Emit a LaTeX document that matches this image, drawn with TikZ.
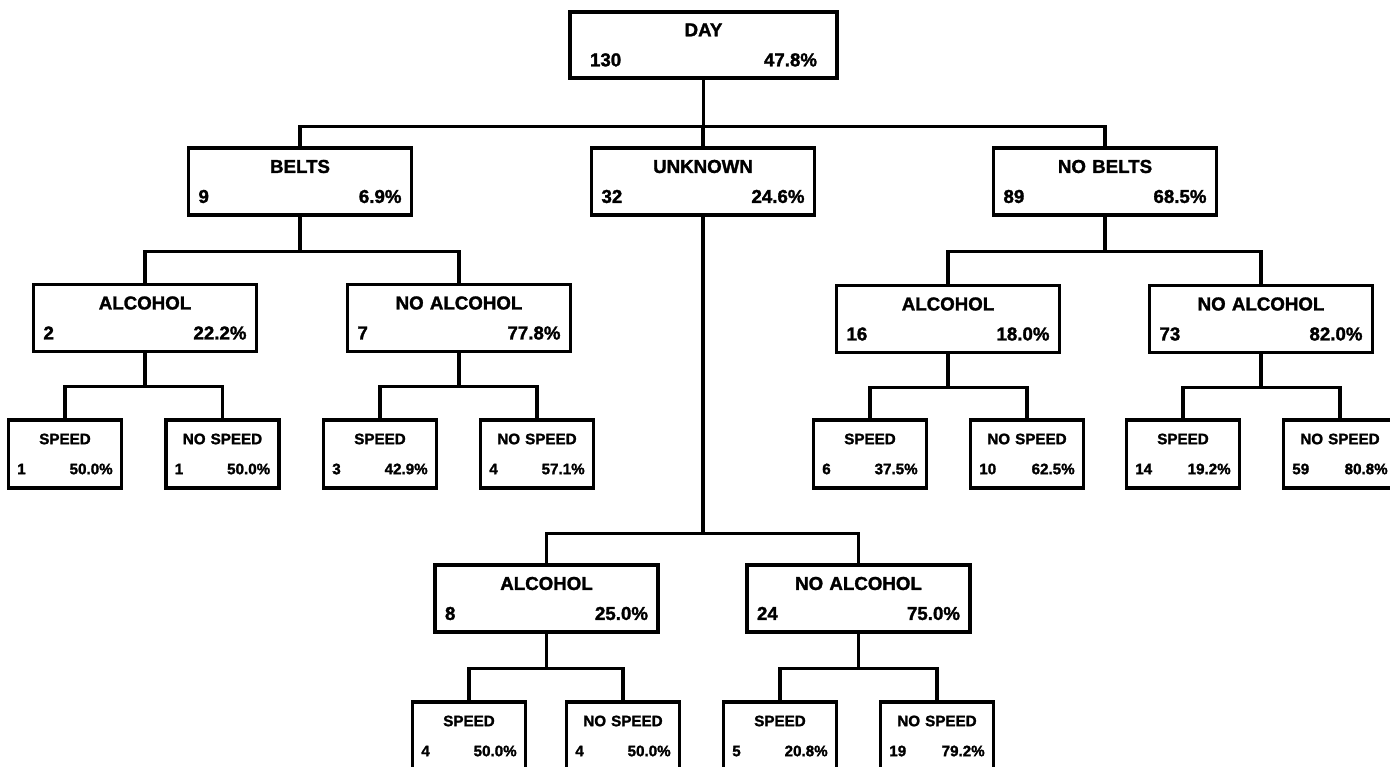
\documentclass[tikz,border=0pt]{standalone}
\usepackage{fontspec}
\setmainfont{Liberation Sans}[BoldFeatures={FakeBold=1.6}]

\begin{document}
\begin{tikzpicture}[
  x=0.25mm, y=-0.25mm,
  line width=2.2pt,
  box/.style={draw, line width=2.2pt, align=center, inner ysep=0pt},
  splitbox/.style={box, text width=50.75mm, inner xsep=2.5mm, minimum height=16.75mm,
    font=\fontsize{13.3pt}{7.5mm}\selectfont\bfseries},
  rootbox/.style={splitbox, text width=56.75mm, inner xsep=5mm, minimum height=16.5mm},
  leafbox/.style={box, text width=23.85mm, inner xsep=2.2mm, minimum height=17mm,
    font=\fontsize{10.8pt}{7.5mm}\selectfont\bfseries}
]
\useasboundingbox (0,0) rectangle (1390,767);

\node[rootbox] (day) at (703.5,45) {DAY\\130\hfill 47.8\%};

\node[splitbox] (belts) at (300,181.5) {BELTS\\9\hfill 6.9\%};
\node[splitbox] (unknown) at (703,181.5) {UNKNOWN\\32\hfill 24.6\%};
\node[splitbox] (nobelts) at (1105,181.5) {NO BELTS\\89\hfill 68.5\%};

\node[splitbox] (b-alc) at (145,318) {ALCOHOL\\2\hfill 22.2\%};
\node[splitbox] (b-noalc) at (459,318) {NO ALCOHOL\\7\hfill 77.8\%};
\node[splitbox] (n-alc) at (948,319) {ALCOHOL\\16\hfill 18.0\%};
\node[splitbox] (n-noalc) at (1261,319) {NO ALCOHOL\\73\hfill 82.0\%};
\node[splitbox] (u-alc) at (546.5,598.5) {ALCOHOL\\8\hfill 25.0\%};
\node[splitbox] (u-noalc) at (858.5,598.5) {NO ALCOHOL\\24\hfill 75.0\%};

\node[leafbox] (b-alc-sp) at (65,454) {SPEED\\1\hfill 50.0\%};
\node[leafbox] (b-alc-nosp) at (222.5,454) {NO SPEED\\1\hfill 50.0\%};
\node[leafbox] (b-noalc-sp) at (380,454) {SPEED\\3\hfill 42.9\%};
\node[leafbox] (b-noalc-nosp) at (537,454) {NO SPEED\\4\hfill 57.1\%};
\node[leafbox] (n-alc-sp) at (870,454) {SPEED\\6\hfill 37.5\%};
\node[leafbox] (n-alc-nosp) at (1027,454) {NO SPEED\\10\hfill 62.5\%};
\node[leafbox] (n-noalc-sp) at (1183,454) {SPEED\\14\hfill 19.2\%};
\node[leafbox] (n-noalc-nosp) at (1340,454) {NO SPEED\\59\hfill 80.8\%};
\node[leafbox] (u-alc-sp) at (469,736) {SPEED\\4\hfill 50.0\%};
\node[leafbox] (u-alc-nosp) at (623,736) {NO SPEED\\4\hfill 50.0\%};
\node[leafbox] (u-noalc-sp) at (780,736) {SPEED\\5\hfill 20.8\%};
\node[leafbox] (u-noalc-nosp) at (937,736) {NO SPEED\\19\hfill 79.2\%};

% tree branches: parent / child / drop to the bar
\foreach \p/\c/\d in {day/belts/47, day/unknown/47, day/nobelts/47,
    belts/b-alc/35, belts/b-noalc/35, nobelts/n-alc/35, nobelts/n-noalc/35,
    unknown/u-alc/317, unknown/u-noalc/317,
    b-alc/b-alc-sp/33, b-alc/b-alc-nosp/33, b-noalc/b-noalc-sp/33, b-noalc/b-noalc-nosp/33,
    n-alc/n-alc-sp/33, n-alc/n-alc-nosp/33, n-noalc/n-noalc-sp/33, n-noalc/n-noalc-nosp/33,
    u-alc/u-alc-sp/35, u-alc/u-alc-nosp/35, u-noalc/u-noalc-sp/35, u-noalc/u-noalc-nosp/35}
  \draw (\p.south) -- ++(0,\d) -| (\c.north);

\end{tikzpicture}
\end{document}
